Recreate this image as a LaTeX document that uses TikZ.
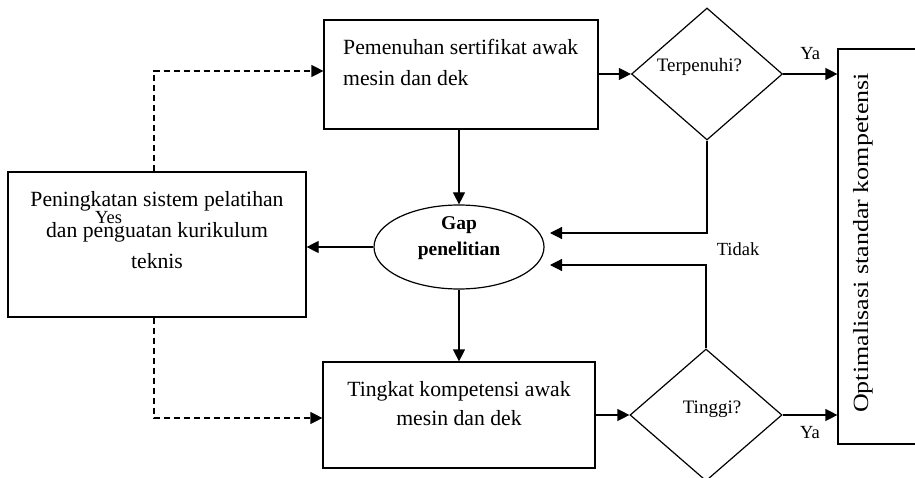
\documentclass[tikz,border=0pt]{standalone}
\usepackage{fontspec}
\setmainfont{Liberation Serif}
\usetikzlibrary{shapes.geometric,arrows.meta}

\tikzset{
  box/.style={draw, line width=1.2pt, inner sep=0pt},
  decision/.style={draw, diamond, line width=1.2pt, inner sep=0pt},
  arr/.style={line width=1.2pt, -{Triangle[length=12pt,width=12pt]}},
  dasharr/.style={arr, dash pattern=on 6pt off 4pt},
  body/.style={font=\fontsize{21.7}{31}\selectfont, inner sep=0pt},
  small/.style={font=\fontsize{18.5}{24}\selectfont, inner sep=0pt},
}

\begin{document}
\begin{tikzpicture}[x=1pt,y=-1pt]
  \useasboundingbox (0,0) rectangle (915,478);
  \clip (0,0) rectangle (915,478);
  \fill[white] (0,0) rectangle (915,478);

  % process boxes
  \node[box, minimum width=274pt, minimum height=109pt] (cert) at (461,74.5) {};
  \node[box, minimum width=298pt, minimum height=145pt] (train) at (157,244.5) {};
  \node[box, minimum width=272pt, minimum height=106pt] (comp) at (459,415) {};
  \node[box, minimum width=104pt, minimum height=395pt] (opt) at (890,246.5) {};

  % research gap
  \node[draw, ellipse, line width=1.2pt, minimum width=170pt, minimum height=84pt, inner sep=0pt] (gap) at (459,247) {};

  % decisions
  \node[decision, minimum width=151pt, minimum height=132pt] (met) at (707,74) {};
  \node[decision, minimum width=152pt, minimum height=132pt] (high) at (706,415) {};

  % texts (base anchor sits on the last line)
  \node[body, anchor=base west, align=left] at (343,86) {Pemenuhan sertifikat awak\\mesin dan dek};
  \node[body, anchor=base, align=center] at (157,269) {Peningkatan sistem pelatihan\\dan penguatan kurikulum\\teknis};
  \node[body, anchor=base, align=center, font=\fontsize{21.7}{28.5}\selectfont] at (459,425) {Tingkat kompetensi awak\\mesin dan dek};
  \node[anchor=base, align=center, inner sep=0pt, font=\fontsize{19.5}{26}\selectfont\bfseries] at (459,256) {Gap\\penelitian};
  \node[small, anchor=base, font=\fontsize{19}{24}\selectfont] at (699.5,72) {Terpenuhi?};
  \node[small, anchor=base, font=\fontsize{19}{24}\selectfont] at (712,413) {Tinggi?};
  \node[small, anchor=base] at (108.5,224) {Yes};
  \node[body, anchor=base, rotate=90] at (868,243) {\scalebox{1.2}[1]{Optimalisasi standar kompetensi}};

  % connector end points
  \coordinate (gapin1) at (550,233);
  \coordinate (gapin2) at (550,265);
  \coordinate (dtop) at (154,71);
  \coordinate (dbot) at (154,418);

  % solid connectors
  \draw[arr] (met.west -| cert.east) -- (met.west);
  \draw[arr] (met.east) -- (met.east -| opt.west)
    node[small, midway, anchor=base, yshift=14pt] {Ya};
  \draw[arr] (met.south) |- (gapin1);
  \draw[arr] (high.north) |- (gapin2);
  \node[small, anchor=base] at (738,255) {Tidak};
  \draw[arr] (high.west -| comp.east) -- (high.west);
  \draw[arr] (high.east) -- (high.east -| opt.west)
    node[small, midway, anchor=base, yshift=-23pt] {Ya};
  \draw[arr] (gap.north |- cert.south) -- (gap.north);
  \draw[arr] (gap.south) -- (comp.north -| gap.south);
  \draw[arr] (gap.west) -- (gap.west -| train.east);

  % dashed feedback connectors
  \draw[dasharr] (train.north -| dtop) -- (dtop) -- (dtop -| cert.west);
  \draw[dasharr] (train.south -| dbot) -- (dbot) -- (dbot -| comp.west);
\end{tikzpicture}
\end{document}
